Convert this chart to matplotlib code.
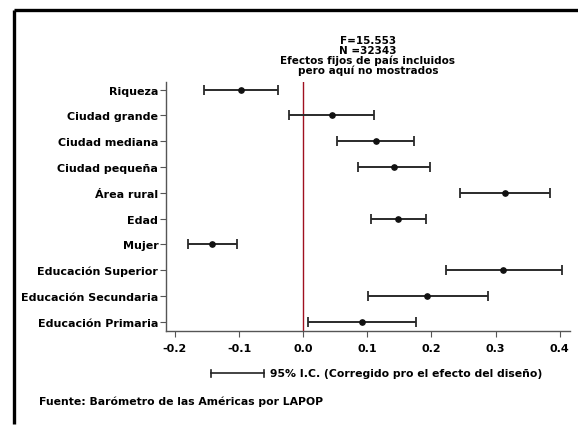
import matplotlib
matplotlib.use("Agg")
import matplotlib.pyplot as plt
from matplotlib.lines import Line2D

plt.rcParams['font.family'] = ['DejaVu Sans']
plt.rcParams['font.weight'] = 'bold'

labels = ["Riqueza", "Ciudad grande", "Ciudad mediana", "Ciudad pequeña", "Área rural",
          "Edad", "Mujer", "Educación Superior", "Educación Secundaria", "Educación Primaria"]
coef = [-0.097, 0.045, 0.113, 0.141, 0.315, 0.148, -0.142, 0.312, 0.193, 0.091]
ci_low = [-0.155, -0.022, 0.053, 0.085, 0.244, 0.105, -0.180, 0.222, 0.101, 0.008]
ci_high = [-0.040, 0.111, 0.173, 0.198, 0.385, 0.191, -0.103, 0.403, 0.288, 0.176]
xticks = [-0.2, -0.1, 0.0, 0.1, 0.2, 0.3, 0.4]
xticklabels = ["-0.2", "-0.1", "0.0", "0.1", "0.2", "0.3", "0.4"]
title_lines = ["F=15.553", "N =32343", "Efectos fijos de país incluidos", "pero aquí no mostrados"]
ci_note = "95% I.C. (Corregido pro el efecto del diseño)"
source = "Fuente: Barómetro de las Américas por LAPOP"

W, H = 578, 427
fig = plt.figure(figsize=(W / 100, H / 100), dpi=100)
ax = fig.add_axes([166 / W, 1 - 332 / H, (570 - 166) / W, (332 - 82.7) / H])

n = len(labels)
ypos = list(range(n, 0, -1))
xerr = [[c - l for c, l in zip(coef, ci_low)], [h - c for c, h in zip(coef, ci_high)]]
ax.axvline(0, color="#a01020", lw=1.0, zorder=1)
ax.errorbar(coef, ypos, xerr=xerr, fmt="o", color="#111111", ecolor="#2a2a2a",
            elinewidth=1.4, capsize=3.5, capthick=1.3, markersize=3.8, zorder=3)

ax.set_xlim(-0.214, 0.416)
ax.set_ylim(0.64, 10.31)
ax.set_yticks(ypos)
ax.set_yticklabels(labels, fontsize=8.0, fontweight="bold")
ax.set_xticks(xticks)
ax.set_xticklabels(xticklabels, fontsize=8.0, fontweight="bold")
for s in ["top", "right"]:
    ax.spines[s].set_visible(False)
for s in ["left", "bottom"]:
    ax.spines[s].set_color("#555555")
    ax.spines[s].set_linewidth(1.0)
ax.tick_params(axis="both", colors="#555555", length=4, width=0.8, labelcolor="black")
ax.tick_params(axis="y", pad=1.5)
ax.tick_params(axis="x", pad=5)

ax.set_title("\n".join(title_lines), fontsize=7.5, fontweight="bold", linespacing=0.98, pad=6)

# CI legend key
ly = 1 - 374 / H
x0, x1 = 210.7 / W, 264.3 / W
fig.add_artist(Line2D([x0, x1], [ly, ly], color="#222222", lw=1.2, transform=fig.transFigure))
ch = 3.5 / H
for xx in (x0, x1):
    fig.add_artist(Line2D([xx, xx], [ly - ch, ly + ch], color="#222222", lw=1.2, transform=fig.transFigure))
fig.text(270 / W, ly, ci_note, fontsize=7.8, fontweight="bold", va="center", ha="left")
fig.text(39 / W, 1 - 401.7 / H, source, fontsize=7.85, fontweight="bold", va="center", ha="left")

# partial outer frame
fig.add_artist(Line2D([13.5 / W, 577.7 / W], [1 - 11 / H, 1 - 11 / H], color="black", lw=2.4,
                      transform=fig.transFigure, solid_capstyle="butt"))
fig.add_artist(Line2D([13.8 / W, 13.8 / W], [1 - 11 / H, 1 - 425 / H], color="black", lw=2.4,
                      transform=fig.transFigure, solid_capstyle="butt"))

fig.savefig("out.png", dpi=100)
